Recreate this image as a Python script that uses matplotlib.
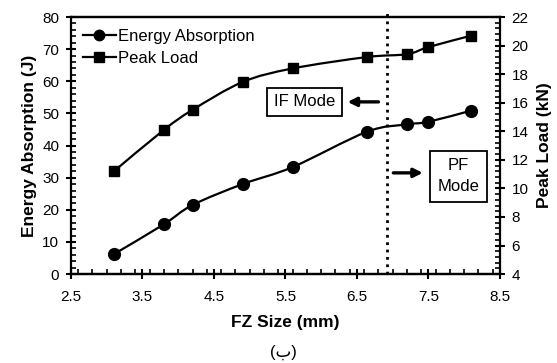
import matplotlib
matplotlib.use('Agg')
import matplotlib.pyplot as plt
from matplotlib.path import Path
from matplotlib.patches import PathPatch
from matplotlib.lines import Line2D
from matplotlib.ticker import MultipleLocator

plt.rcParams['font.family'] = ['Liberation Sans', 'DejaVu Sans']

# datos
fz_size = [3.1, 3.8, 4.2, 4.9, 5.6, 6.64, 7.2, 7.5, 8.1]
energia = [6.2, 15.5, 21.5, 28.0, 33.3, 44.3, 46.6, 47.4, 50.9]
carga_pico = [11.2, 14.1, 15.5, 17.45, 18.4, 19.2, 19.4, 19.9, 20.7]
limite_modo = 6.92


# curva suavizada tipo Excel (Catmull-Rom -> Bezier)
def curva_suave(xs, ys):
    pts = list(zip(xs, ys))
    verts = [pts[0]]
    codes = [Path.MOVETO]
    n = len(pts)
    for i in range(n - 1):
        p0 = pts[max(i - 1, 0)]
        p1 = pts[i]
        p2 = pts[i + 1]
        p3 = pts[min(i + 2, n - 1)]
        c1 = (p1[0] + (p2[0] - p0[0]) / 6, p1[1] + (p2[1] - p0[1]) / 6)
        c2 = (p2[0] - (p3[0] - p1[0]) / 6, p2[1] - (p3[1] - p1[1]) / 6)
        verts += [c1, c2, p2]
        codes += [Path.CURVE4] * 3
    return Path(verts, codes)


fig = plt.figure(figsize=(5.57, 3.63), dpi=100)
ax = fig.add_axes([0.1275, 0.245, 0.770, 0.708])
ax2 = ax.twinx()

ax.add_patch(PathPatch(curva_suave(fz_size, energia), fill=False, lw=1.6, ec='black'))
ax.plot(fz_size, energia, ls='none', marker='o', ms=8.5, color='black')
ax2.add_patch(PathPatch(curva_suave(fz_size, carga_pico), fill=False, lw=1.6, ec='black'))
ax2.plot(fz_size, carga_pico, ls='none', marker='s', ms=7.5, color='black')

ax.set_xlim(2.5, 8.5)
ax.set_ylim(0, 80)
ax2.set_ylim(4, 22)
ax.set_xticks([2.5, 3.5, 4.5, 5.5, 6.5, 7.5, 8.5])
ax.xaxis.set_minor_locator(MultipleLocator(0.2))
ax.yaxis.set_major_locator(MultipleLocator(10))
ax.yaxis.set_minor_locator(MultipleLocator(2))
ax2.yaxis.set_major_locator(MultipleLocator(2))
ax2.yaxis.set_minor_locator(MultipleLocator(0.4))

for a in (ax, ax2):
    for s in a.spines.values():
        s.set_linewidth(1.6)
    a.tick_params(which='major', direction='inout', length=7, width=1.5, labelsize=11, pad=5)
    a.tick_params(which='minor', direction='in', length=3.5, width=1.2)
ax.tick_params(axis='x', pad=8)
ax.spines['right'].set_visible(False)
ax2.spines['left'].set_visible(False)

ax.set_xlabel('FZ Size (mm)', fontsize=12.5, fontweight='bold', labelpad=8)
ax.set_ylabel('Energy Absorption (J)', fontsize=12.5, fontweight='bold', labelpad=4)
ax2.set_ylabel('Peak Load (kN)', fontsize=12.5, fontweight='bold', labelpad=6)

# linea vertical punteada
ax.plot([limite_modo, limite_modo], [0, 81.5], ls=':', lw=2, color='black', clip_on=False)

# cajas de modo y flechas
caja = dict(boxstyle='square,pad=0.4', fc='white', ec='black', lw=1.3)
ax.text(5.77, 53.6, 'IF Mode', fontsize=12, ha='center', va='center', bbox=caja)
ax.annotate('', xy=(6.33, 53.6), xytext=(6.84, 53.6),
            arrowprops=dict(arrowstyle='-|>', lw=2.4, color='black', mutation_scale=13))
ax.text(7.92, 30.4, 'PF\nMode', fontsize=12, ha='center', va='center',
        bbox=dict(boxstyle='square,pad=0.45', fc='white', ec='black', lw=1.3),
        linespacing=1.5)
ax.annotate('', xy=(7.46, 31.5), xytext=(6.97, 31.5),
            arrowprops=dict(arrowstyle='-|>', lw=2.4, color='black', mutation_scale=13))

handles = [Line2D([], [], color='black', lw=1.6, marker='o', ms=7.5),
           Line2D([], [], color='black', lw=1.6, marker='s', ms=7)]
ax.legend(handles, ['Energy Absorption', 'Peak Load'], loc='upper left', frameon=False,
          fontsize=12, handlelength=2.0, handletextpad=0.1, borderaxespad=0.3, labelspacing=0.45)

fig.text(0.508, 0.03, '(ب)', fontsize=12, ha='center', va='center')

fig.savefig('out.png', dpi=100)
